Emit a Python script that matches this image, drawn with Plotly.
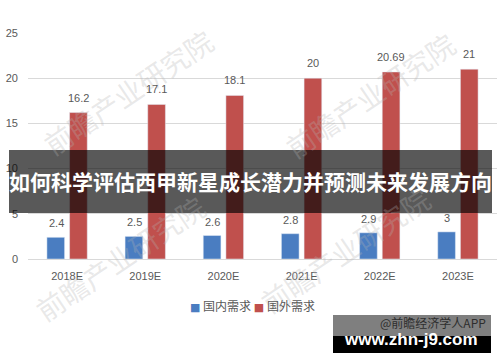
import plotly.graph_objects as go

categories = ["2018E", "2019E", "2020E", "2021E", "2022E", "2023E"]
domestic = [2.4, 2.5, 2.6, 2.8, 2.9, 3]
foreign = [16.2, 17.1, 18.1, 20, 20.69, 21]
domestic_labels = ["2.4", "2.5", "2.6", "2.8", "2.9", "3"]
foreign_labels = ["16.2", "17.1", "18.1", "20", "20.69", "21"]
series_names = ["国内需求", "国外需求"]
y_ticks = [0, 5, 10, 15, 20, 25]

BLUE = "#4a7dc1"
RED = "#c0504d"
GRAY = "#595959"
LATIN = "Liberation Sans, Arial, sans-serif"
CJK = "Noto Sans CJK SC, sans-serif"

# plot area in pixels: x 28..497, y 33..259
L, R, T, B = 28, 497, 33, 259
W, H = 500, 362
def px(x):
    return (x - L) / (R - L)
def py(y):
    return (B - y) / (B - T)

fig = go.Figure()
fig.add_trace(go.Bar(x=categories, y=domestic, name=series_names[0], marker_color=BLUE))
fig.add_trace(go.Bar(x=categories, y=foreign, name=series_names[1], marker_color=RED))

annotations = []
# faint background watermarks
for (wx, wy) in [(128, 92), (370, 95), (120, 258), (345, 250)]:
    annotations.append(dict(x=px(wx), y=py(wy), xref="paper", yref="paper",
                            text="前瞻产业研究院", showarrow=False, textangle=-34,
                            xanchor="center", yanchor="middle",
                            font=dict(family=CJK, size=28, color="rgba(180,180,180,0.3)")))

for i, c in enumerate(categories):
    annotations.append(dict(x=c, y=domestic[i], text=domestic_labels[i], xref="x", yref="y",
                            showarrow=False, yanchor="bottom", yshift=6, xshift=-11,
                            font=dict(family=LATIN, size=11, color=GRAY)))
    annotations.append(dict(x=c, y=foreign[i], text=foreign_labels[i], xref="x", yref="y",
                            showarrow=False, yanchor="bottom", yshift=7, xshift=11,
                            font=dict(family=LATIN, size=11, color=GRAY)))

# custom compact legend built from the trace names
sq = '<span style="font-family:DejaVu Sans;font-size:11px;color:{c}">■</span>'
legend_text = (sq.format(c=BLUE) + " " + series_names[0] + " " +
               sq.format(c=RED) + " " + series_names[1])
annotations.append(dict(x=px(252), y=py(305), xref="paper", yref="paper",
                        text=legend_text, showarrow=False, xanchor="center", yanchor="middle",
                        font=dict(family=CJK, size=12, color=GRAY)))

# banner title
annotations.append(dict(x=px(250), y=py(181), xref="paper", yref="paper",
                        text="<b>如何科学评估西甲新星成长潜力并预测未来发展方向</b>",
                        showarrow=False, xanchor="center", yanchor="middle",
                        font=dict(family=CJK, size=21, color="white")))
annotations.append(dict(x=px(433), y=py(322), xref="paper", yref="paper",
                        text="@前瞻经济学人APP", showarrow=False,
                        xanchor="center", yanchor="middle",
                        font=dict(family=CJK, size=12, color="#2e2e2e")))
annotations.append(dict(x=px(411), y=py(339), xref="paper", yref="paper",
                        text="<b>www.zhn-j9.com</b>", showarrow=False,
                        xanchor="center", yanchor="middle",
                        font=dict(family=LATIN, size=17, color="white")))

shapes = [
    dict(type="rect", xref="paper", yref="paper", x0=px(9), x1=px(492), y0=py(213), y1=py(150),
         fillcolor="rgba(0,0,0,0.65)", line=dict(width=0), layer="above"),
    dict(type="rect", xref="paper", yref="paper", x0=px(333), x1=px(491), y0=py(336), y1=py(315),
         fillcolor="rgba(0,0,0,0.5)", line=dict(width=0), layer="above"),
    dict(type="rect", xref="paper", yref="paper", x0=px(333), x1=px(491), y0=py(353), y1=py(336),
         fillcolor="black", line=dict(width=0), layer="above"),
]

fig.update_layout(
    width=W, height=H,
    margin=dict(l=L, r=W - R, t=T, b=H - B),
    paper_bgcolor="white", plot_bgcolor="white",
    barmode="group", bargap=0.42, bargroupgap=0.22,
    showlegend=False,
    annotations=annotations,
    shapes=shapes,
    xaxis=dict(tickfont=dict(family=LATIN, size=11, color=GRAY), showline=True,
               linecolor="#d9d9d9", linewidth=1, ticks="", ticklabelstandoff=7,
               showgrid=False),
    yaxis=dict(range=[0, 25], tickvals=y_ticks, tickfont=dict(family=LATIN, size=11, color=GRAY),
               showgrid=True, gridcolor="#d9d9d9", gridwidth=1, zeroline=False,
               ticks="", ticklabelstandoff=9, showline=False),
)

fig.write_html("out.html")
